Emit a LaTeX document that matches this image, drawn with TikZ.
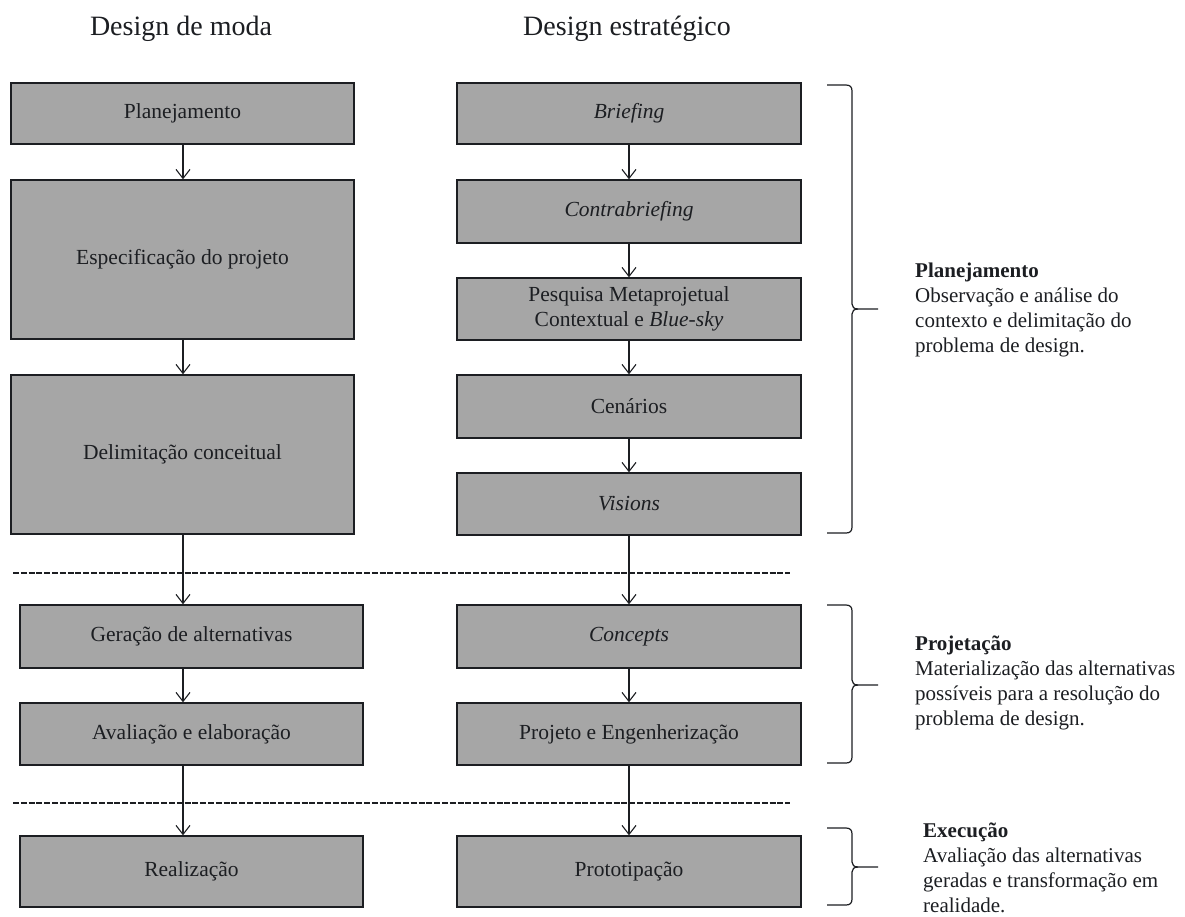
\documentclass[tikz,border=0pt]{standalone}
\usepackage{fontspec}
\setmainfont{Liberation Serif}
\usetikzlibrary{arrows.meta}
\definecolor{boxgray}{RGB}{166,166,166}
\definecolor{ink}{RGB}{28,30,34}
\newcommand\mybrace[3]{%
  \draw[brc] (827,#1) -- (846,#1) .. controls (850,#1) and (852,{#1+2}) .. (852,{#1+6}) -- (852,{#2-5}) .. controls (852,{#2-2}) and (854,#2) .. (858,#2) -- (878,#2);
  \draw[brc] (858,#2) .. controls (854,#2) and (852,{#2+2}) .. (852,{#2+5}) -- (852,{#3-6}) .. controls (852,{#3-2}) and (850,#3) .. (846,#3) -- (827,#3);}
\begin{document}
\begin{tikzpicture}[x=1pt,y=-1pt,
  box/.style={draw=ink, line width=1.4pt, fill=boxgray, minimum width=343pt, inner sep=2pt, align=center, text=ink, font=\fontsize{21.5}{25}\selectfont},
  arr/.style={draw=ink, line width=1.1pt, -{Straight Barb[length=9pt,width=14pt]}},
  sep/.style={draw=ink, line width=2.5pt, dash pattern=on 6pt off 1.8pt},
  brc/.style={draw=ink, line width=1.2pt},
  head/.style={font=\fontsize{28}{32}\selectfont, text=ink, anchor=base},
  note/.style={anchor=base west, inner sep=0pt, text=ink, font=\fontsize{21}{25}\selectfont}]
\useasboundingbox[fill=white] (0,0) rectangle (1185,916);

\node[head] (h1) at (181,35) {Design de moda};
\node[head] (h2) at (627,35) {Design estratégico};

\node[box, minimum height=61pt] (L1) at (182.5,113.5) {Planejamento};
\node[box, minimum height=159pt] (L2) at (182.5,259.5) {Especificação do projeto};
\node[box, minimum height=159pt] (L3) at (182.5,454.5) {Delimitação conceitual};
\node[box, minimum height=63pt] (L4) at (191.5,636.5) {Geração de alternativas};
\node[box, minimum height=62pt] (L5) at (191.5,734) {Avaliação e elaboração};
\node[box, minimum height=71pt] (L6) at (191.5,871.5) {Realização};

\node[box, minimum width=344pt, minimum height=61pt] (R1) at (629,113.5) {\textit{Briefing}};
\node[box, minimum width=344pt, minimum height=63pt] (R2) at (629,211.5) {\textit{Contrabriefing}};
\node[box, minimum width=344pt, minimum height=62pt] (R3) at (629,309) {Pesquisa Metaprojetual\\Contextual e \textit{Blue-sky}};
\node[box, minimum width=344pt, minimum height=63pt] (R4) at (629,406.5) {Cenários};
\node[box, minimum width=344pt, minimum height=62pt] (R5) at (629,504) {\textit{Visions}};
\node[box, minimum width=344pt, minimum height=63pt] (R6) at (629,636.5) {\textit{Concepts}};
\node[box, minimum width=344pt, minimum height=62pt] (R7) at (629,734) {Projeto e Engenherização};
\node[box, minimum width=344pt, minimum height=71pt] (R8) at (629,871.5) {Prototipação};

\coordinate (d1a) at (13,573);
\coordinate (d1b) at (790,573);
\coordinate (d2a) at (13,803);
\coordinate (d2b) at (790,803);
\draw[sep] (d1a) -- (d1b);
\draw[sep] (d2a) -- (d2b);

\coordinate (lx) at (183,0);
\draw[arr] (L1.south -| lx) -- (L2.north -| lx);
\draw[arr] (L2.south -| lx) -- (L3.north -| lx);
\draw[arr] (L3.south -| lx) -- (L4.north -| lx);
\draw[arr] (L4.south -| lx) -- (L5.north -| lx);
\draw[arr] (L5.south -| lx) -- (L6.north -| lx);

\draw[arr] (R1.south) -- (R2.north);
\draw[arr] (R2.south) -- (R3.north);
\draw[arr] (R3.south) -- (R4.north);
\draw[arr] (R4.south) -- (R5.north);
\draw[arr] (R5.south) -- (R6.north);
\draw[arr] (R6.south) -- (R7.north);
\draw[arr] (R7.south) -- (R8.north);

\mybrace{85}{309}{533}
\mybrace{605}{685}{763}
\mybrace{828}{867}{905}

\node[note] (n1) at (915,277) {\begin{tabular}[t]{@{}l@{}}\textbf{Planejamento}\\Observação e análise do\\contexto e delimitação do\\problema de design.\end{tabular}};
\node[note] (n2) at (915,650) {\begin{tabular}[t]{@{}l@{}}\textbf{Projetação}\\Materialização das alternativas\\possíveis para a resolução do\\problema de design.\end{tabular}};
\node[note] (n3) at (923,837) {\begin{tabular}[t]{@{}l@{}}\textbf{Execução}\\Avaliação das alternativas\\geradas e transformação em\\realidade.\end{tabular}};
\end{tikzpicture}
\end{document}
